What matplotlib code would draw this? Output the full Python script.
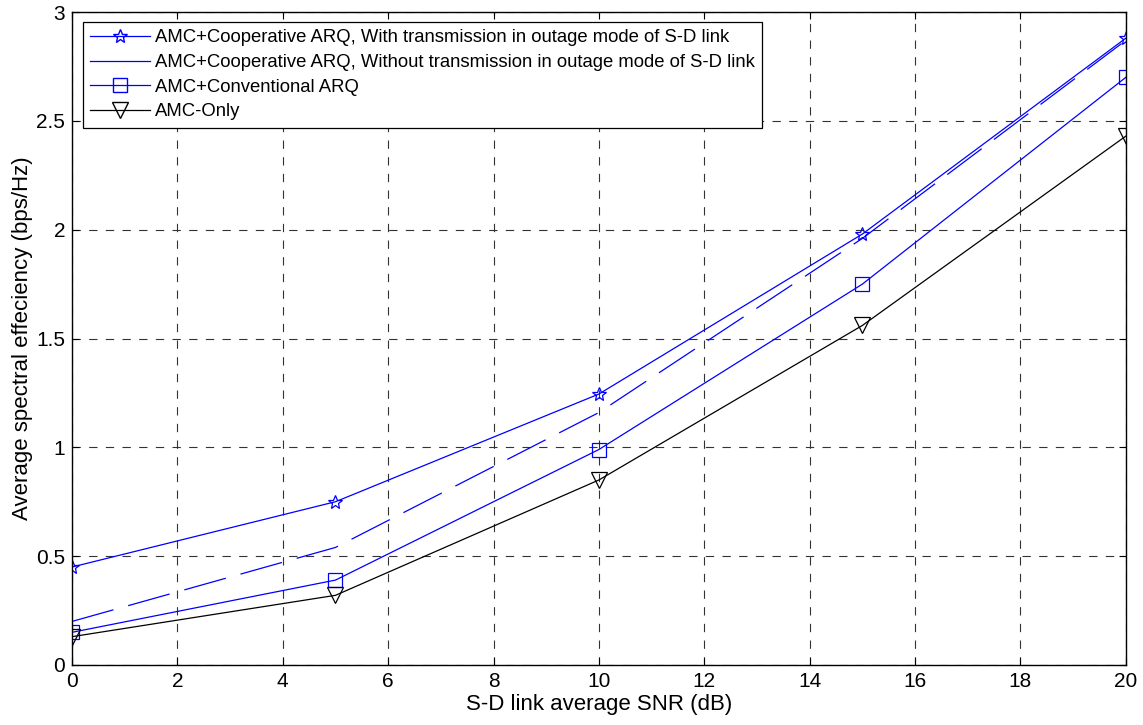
import matplotlib
matplotlib.use("Agg")
import matplotlib.pyplot as plt
from matplotlib.lines import Line2D

snr = [0, 5, 10, 15, 20]
coop_with = [0.45, 0.75, 1.245, 1.98, 2.88]
coop_without = [0.20, 0.54, 1.16, 1.96, 2.87]
conv_arq = [0.15, 0.39, 0.99, 1.75, 2.70]
amc_only = [0.13, 0.32, 0.85, 1.56, 2.43]
labels = ["AMC+Cooperative ARQ, With transmission in outage mode of S-D link",
          "AMC+Cooperative ARQ, Without transmission in outage mode of S-D link",
          "AMC+Conventional ARQ",
          "AMC-Only"]
xticks = list(range(0, 21, 2))
yticks = [0, 0.5, 1, 1.5, 2, 2.5, 3]

plt.rcParams['font.family'] = ['Liberation Sans', 'DejaVu Sans']
plt.rcParams['lines.scale_dashes'] = False
fig = plt.figure(figsize=(11.43, 7.25), dpi=100)
ax = fig.add_axes([0.063, 0.0828, 0.922, 0.9006])

blue = '#0000ff'
ax.plot(snr, coop_with, color=blue, lw=0.9, marker='*', ms=10, mfc='none', mec=blue, mew=0.9)
ax.plot(snr, coop_without, color=blue, lw=0.9, dashes=(31, 11))
ax.plot(snr, conv_arq, color=blue, lw=0.9, marker='s', ms=9.5, mfc='none', mec=blue, mew=0.9)
ax.plot(snr, amc_only, color='black', lw=0.9, marker='v', ms=11, mfc='none', mec='black', mew=0.9)

handles = [Line2D([], [], color=blue, lw=0.9, marker='*', ms=10, mfc='none', mec=blue),
           Line2D([], [], color=blue, lw=0.9),
           Line2D([], [], color=blue, lw=0.9, marker='s', ms=9.5, mfc='none', mec=blue),
           Line2D([], [], color='black', lw=0.9, marker='v', ms=11, mfc='none', mec='black')]
leg = ax.legend(handles, labels, loc='upper left', bbox_to_anchor=(0.0105, 0.985),
                fontsize=13.3, fancybox=False, framealpha=1, edgecolor='black',
                borderpad=0.4, labelspacing=0.42, handlelength=3.2, handletextpad=0.3,
                borderaxespad=0)
leg.get_frame().set_linewidth(0.9)

ax.set_xlim(0, 20)
ax.set_ylim(0, 3)
ax.set_xticks(xticks)
ax.set_yticks(yticks)
ax.set_yticklabels(['0', '0.5', '1', '1.5', '2', '2.5', '3'])
ax.grid(True, color='0.2', lw=0.8, dashes=(6, 6))
ax.tick_params(direction='in', top=True, right=True, labelsize=15, length=5, pad=5)
for s in ax.spines.values():
    s.set_linewidth(1.0)
ax.set_xlabel('S-D link average SNR (dB)', fontsize=16, labelpad=2)
ax.set_ylabel('Average spectral effeciency (bps/Hz)', fontsize=16, labelpad=2)

fig.savefig('out.png', dpi=100)
